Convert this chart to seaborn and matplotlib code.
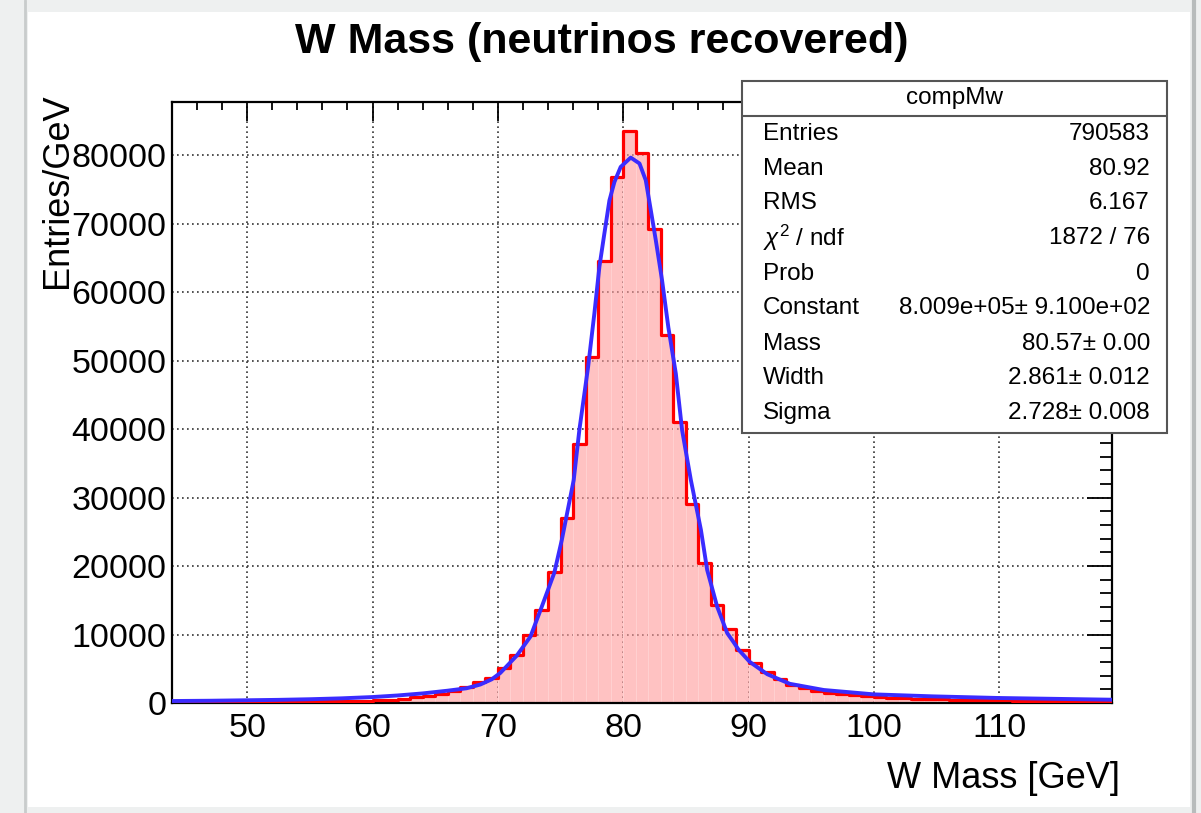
import numpy as np
import pandas as pd
import matplotlib
matplotlib.use("Agg")
import matplotlib.pyplot as plt
from matplotlib.patches import Rectangle
from matplotlib.lines import Line2D
from matplotlib.ticker import MultipleLocator
import seaborn as sns

# ---------------- data ----------------
bin_low = list(range(44, 119))  # 1 GeV bins, lower edges
counts = [100, 110, 120, 130, 140, 150, 160, 170, 190, 200,
          220, 240, 260, 290, 320, 350, 400, 500, 650, 850,
          1050, 1350, 1800, 2300, 3100, 3700, 5100, 7000, 9900, 13600,
          19200, 27000, 37900, 50500, 64600, 76800, 83600, 80400, 69200, 53800,
          41000, 29000, 20400, 14300, 10800, 7700, 5800, 4500, 3500, 2700,
          2200, 1800, 1500, 1300, 1100, 1000, 900, 800, 700, 650,
          600, 550, 500, 450, 420, 400, 370, 340, 320, 300,
          280, 260, 240, 220, 200]

fit_x = [44, 47, 50, 52.5, 55, 57.5, 60, 62, 64, 66, 67.5, 68.6, 69.5, 70.2,
         71.5, 72.6, 73.5, 74.5, 75.1, 76.05, 76.5, 77.2, 77.7, 78.1, 78.5,
         78.9, 79.3, 79.8, 80.6, 81.3, 81.8, 82.2, 82.6, 83.1, 83.6, 84.2,
         84.7, 85.4, 86.2, 86.7, 87.5, 88.3, 88.8, 89.2, 90.1, 91.5, 93.3, 96.0,
         100.0, 104.7, 110.0, 119.0]
fit_y = [290, 330, 400, 460, 550, 680, 870, 1100, 1400, 1800, 2150, 2700, 3450, 4400,
         6900, 9700, 14050, 19000, 23800, 32550, 39850, 49100, 56900, 63700, 68600,
         73400, 76100, 78300, 79660, 78800, 76350, 72000, 67600, 61750, 54900, 48100,
         39850, 32550, 25300, 19430, 14050, 10200, 8900, 7800, 6000, 4200, 2800, 1900,
         1260, 970, 730, 480]

title = "W Mass (neutrinos recovered)"
xlabel = "W Mass [GeV]"
ylabel = "Entries/GeV"
x_ticks = [50, 60, 70, 80, 90, 100, 110]
y_ticks = [0, 10000, 20000, 30000, 40000, 50000, 60000, 70000, 80000]
stats_name = "compMw"
stats_labels = ["Entries", "Mean", "RMS", r"$\chi^{2}$ / ndf", "Prob",
                "Constant", "Mass", "Width", "Sigma"]
stats_values = ["790583", "80.92", "6.167", "1872 / 76", "0",
                "8.009e+05\u00b1 9.100e+02", "80.57\u00b1 0.00",
                "2.861\u00b1 0.012", "2.728\u00b1 0.008"]

# ---------------- style ----------------
sns.set_style("white")
plt.rcParams['font.family'] = ['Liberation Sans', 'DejaVu Sans']
plt.rcParams['mathtext.fontset'] = 'custom'
plt.rcParams['mathtext.rm'] = 'Liberation Sans'
plt.rcParams['mathtext.it'] = 'Liberation Sans:italic'
for k in ['text.color', 'axes.labelcolor', 'xtick.color', 'ytick.color']:
    plt.rcParams[k] = 'black'

W, H = 1201, 813
fig = plt.figure(figsize=(W / 100, H / 100), dpi=100)
fig.patch.set_facecolor('#eef0f0')

def fx(px):
    return px / W

def fy(py):
    return 1 - py / H

# white canvas
fig.patches.append(Rectangle((fx(28), fy(807)), fx(1190) - fx(28), fy(12) - fy(807),
                             transform=fig.transFigure, facecolor='white',
                             edgecolor='none', zorder=-20))
fig.lines.append(Line2D([fx(25), fx(25)], [0, 1], transform=fig.transFigure,
                        color='#c8cccc', lw=2, zorder=-20))
fig.lines.append(Line2D([fx(1194), fx(1194)], [0, 1], transform=fig.transFigure,
                        color='#b8bcbc', lw=3, zorder=-20))

ax = fig.add_axes([fx(172), fy(703), fx(1112) - fx(172), fy(102) - fy(703)])
ax.set_facecolor('none')
ax.set_zorder(1)

df = pd.DataFrame({"mass": np.array(bin_low) + 0.5, "n": counts})
edges = list(bin_low) + [bin_low[-1] + 1]

# filled bars (pink with striped look)
sns.histplot(data=df, x="mass", weights="n", bins=edges, element="bars",
             fill=True, color='#ff9a9a', alpha=0.6, edgecolor='#ffd0d0',
             linewidth=0.8, ax=ax, zorder=2)
# red step outline
sns.histplot(data=df, x="mass", weights="n", bins=edges, element="step",
             fill=False, color='#ff0000', linewidth=2.3, ax=ax, zorder=3)

fit_df = pd.DataFrame({"x": fit_x, "y": fit_y})
sns.lineplot(data=fit_df, x="x", y="y", color='#3a2cff', linewidth=2.8,
             ax=ax, zorder=4, sort=False)

ax.set_xlim(44, 119)
ax.set_ylim(0, 87780)
ax.set_xticks(x_ticks)
ax.set_yticks(y_ticks)
ax.set_xticklabels([str(v) for v in x_ticks])
ax.set_yticklabels([str(v) for v in y_ticks])
ax.xaxis.set_minor_locator(MultipleLocator(2))
ax.yaxis.set_minor_locator(MultipleLocator(2000))
ax.tick_params(axis='both', which='both', direction='in', top=True, right=True,
               colors='black', width=1.3)
ax.tick_params(axis='x', which='major', length=14, labelsize=24.5, pad=7)
ax.tick_params(axis='x', which='minor', length=6)
ax.tick_params(axis='y', which='major', length=18, labelsize=24.5, pad=4)
ax.tick_params(axis='y', which='minor', length=9)
for sp in ax.spines.values():
    sp.set_visible(True)
    sp.set_color('black')
    sp.set_linewidth(1.6)
ax.grid(True, which='major', linestyle=(0, (1, 2)), color='#333333', lw=1.2, zorder=1)
ax.set_axisbelow(True)
ax.set_xlabel("")
ax.set_ylabel("")

# axis titles (ROOT-style placement)
fig.text(fx(1120), fy(778), xlabel, ha='right', va='center', fontsize=26)
fig.text(fx(57), fy(93), ylabel, ha='center', va='top', rotation=90, fontsize=26)

# title
fig.text(fx(602), fy(42), title, ha='center', va='center', fontsize=31,
         fontweight='bold')

# stats box
bx0, by0, bx1, by1 = 742, 81, 1167, 433
fig.patches.append(Rectangle((fx(bx0), fy(by1)), fx(bx1) - fx(bx0), fy(by0) - fy(by1),
                             transform=fig.transFigure, facecolor='white',
                             edgecolor='#555555', lw=1.5, zorder=10))
fig.lines.append(Line2D([fx(bx0), fx(bx1)], [fy(116), fy(116)], transform=fig.transFigure,
                        color='#555555', lw=1.5, zorder=11))
fig.text(fx((bx0 + bx1) / 2), fy(98), stats_name, ha='center', va='center',
         fontsize=17.5, zorder=12)
row_y = [134, 169, 203, 238, 274, 308, 344, 378, 413]
for lab, val, yy in zip(stats_labels, stats_values, row_y):
    fig.text(fx(763), fy(yy), lab, ha='left', va='center', fontsize=17.5, zorder=12)
    fig.text(fx(1150), fy(yy), val, ha='right', va='center', fontsize=17.5, zorder=12)

fig.savefig("out.png", dpi=100, facecolor=fig.get_facecolor())
